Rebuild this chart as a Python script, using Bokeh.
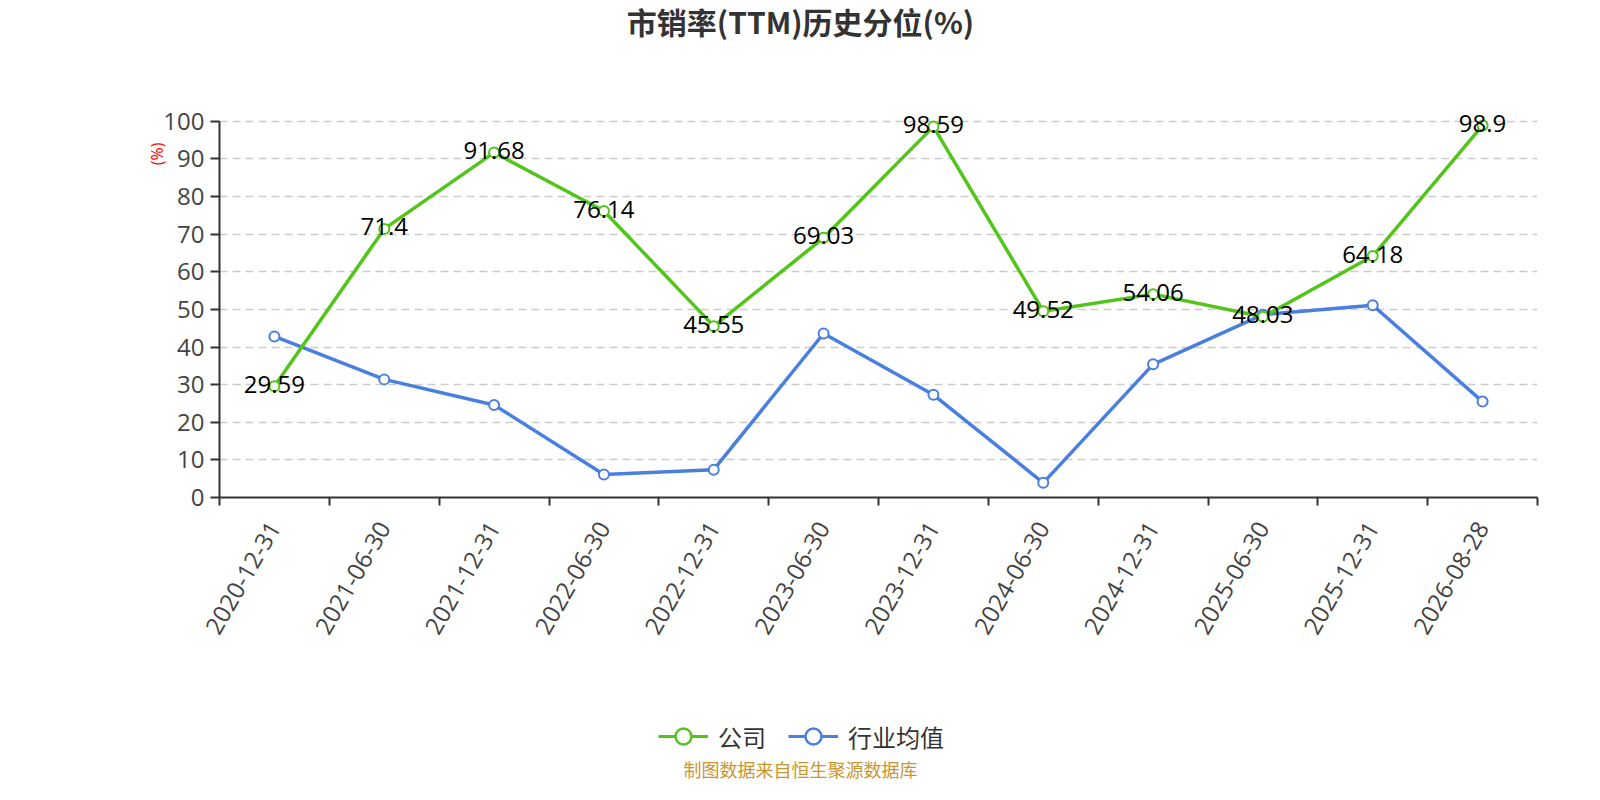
from bokeh.plotting import figure
from bokeh.models import (Range1d, FixedTicker, Label, LabelSet, Title,
                          ColumnDataSource, Legend, LegendItem)
from bokeh.layouts import column
from bokeh.core.properties import value
from bokeh.embed import file_html
from bokeh.resources import INLINE
import math

# ---- data ----
dates = ["2020-12-31", "2021-06-30", "2021-12-31", "2022-06-30", "2022-12-31", "2023-06-30",
         "2023-12-31", "2024-06-30", "2024-12-31", "2025-06-30", "2025-12-31", "2026-08-28"]
company = [29.59, 71.4, 91.68, 76.14, 45.55, 69.03, 98.59, 49.52, 54.06, 48.03, 64.18, 98.9]
industry = [42.8, 31.4, 24.6, 6.1, 7.4, 43.6, 27.3, 3.9, 35.4, 48.6, 51.1, 25.5]
series_names = ["公司", "行业均值"]
y_ticks = [0, 10, 20, 30, 40, 50, 60, 70, 80, 90, 100]
title_text = "市销率(TTM)历史分位(%)"
y_unit = "(%)"
footer_text = "制图数据来自恒生聚源数据库"

GREEN = "#52c41a"
BLUE = "#4a7fe0"
CJK = "Noto Sans CJK SC"
NUM = "Open Sans"

W = 1584
BL, BR = 219, 47          # left / right borders of the plot frame
FW = W - BL - BR          # frame width (all strips share it in the column)
T = 50                    # top strip height
TOP = 52                  # main plot border above the frame
FH = 395                  # frame height
BOT = 175                 # main plot border below the frame
H1 = TOP + FH + BOT
H2 = 784 - T - H1         # bottom strip height
n = len(dates)
xs = [i + 0.5 for i in range(n)]


def strip(h):
    f = figure(width=W, height=h, output_backend="svg", toolbar_location=None,
               x_range=Range1d(0, FW), y_range=Range1d(0, h),
               x_axis_type=None, y_axis_type=None,
               min_border_left=BL, min_border_right=BR, min_border_top=0, min_border_bottom=0)
    f.outline_line_color = None
    f.xgrid.visible = False
    f.ygrid.visible = False
    f.border_fill_color = "white"
    return f


# ---- top strip: title ----
top = strip(T)
top.add_layout(Label(x=W / 2 + 8 - BL, y=T - 20, text=title_text, text_align="center",
                     text_baseline="middle", text_font=CJK, text_font_size="30px",
                     text_font_style="bold", text_color="#333333"))

# ---- main chart ----
p = figure(width=W, height=H1, output_backend="svg", toolbar_location=None,
           x_range=Range1d(0, n), y_range=Range1d(0, 105),
           min_border_left=BL, min_border_right=BR, min_border_top=TOP,
           min_border_bottom=BOT)
p.outline_line_color = None
p.background_fill_color = "white"
p.border_fill_color = "white"

# x axis: labels at category centres, ticks at boundaries
xa = p.xaxis[0]
xa.ticker = FixedTicker(ticks=xs, minor_ticks=list(range(n + 1)))
xa.major_label_overrides = {x: d for x, d in zip(xs, dates)}
xa.major_label_orientation = math.pi / 3
xa.major_tick_line_color = None
xa.major_tick_out = 8
xa.major_tick_in = 0
xa.minor_tick_line_color = "#333333"
xa.minor_tick_line_width = 2
xa.minor_tick_out = 8
xa.minor_tick_in = 0
xa.axis_line_color = "#333333"
xa.axis_line_width = 2
xa.major_label_text_font = NUM
xa.major_label_text_font_size = "24px"
xa.major_label_text_color = "#444444"
xa.major_label_standoff = 18

ya = p.yaxis[0]
ya.ticker = FixedTicker(ticks=y_ticks)
ya.bounds = (0, 100)
ya.axis_line_color = "#333333"
ya.axis_line_width = 2
ya.major_tick_line_color = "#333333"
ya.major_tick_line_width = 2
ya.major_tick_out = 9
ya.major_tick_in = 0
ya.minor_tick_line_color = None
ya.major_label_text_font = NUM
ya.major_label_text_font_size = "24px"
ya.major_label_text_color = "#444444"
ya.major_label_standoff = 6

# unit label beside the top of the value axis
p.add_layout(Title(text=y_unit, align="right", offset=40, standoff=-14,
                   text_font=NUM, text_font_size="16px", text_font_style="normal",
                   text_color="#ff0000"), "left")

p.xgrid.grid_line_color = None
p.ygrid.grid_line_color = "#cccccc"
p.ygrid.grid_line_dash = "8 5"
p.ygrid.grid_line_width = 1.5

src = ColumnDataSource(dict(x=xs, company=company, industry=industry,
                            clabel=[f"{v:g}" for v in company]))

p.line("x", "industry", source=src, line_color=BLUE, line_width=3.5)
p.scatter("x", "industry", source=src, size=10, fill_color="white",
          line_color=BLUE, line_width=2)
p.line("x", "company", source=src, line_color=GREEN, line_width=3.5)
p.scatter("x", "company", source=src, size=10, fill_color="white",
          line_color=GREEN, line_width=2)

labels = LabelSet(x="x", y="company", text="clabel", source=src, text_align="center",
                  text_baseline="middle", text_font=value(NUM), text_font_size="24px",
                  text_color="#000000", y_offset=2)
p.add_layout(labels)

# ---- bottom strip: legend and source note ----
q = strip(H2)
y0 = T + H1  # top of the bottom strip in page coordinates
# legend proxies: one point each, kept outside the visible range
proxy = ColumnDataSource(dict(x=[-10 * FW], y=[-10 * H2]))
lg_l = q.line("x", "y", source=proxy, line_color=GREEN, line_width=3)
lg_s = q.scatter("x", "y", source=proxy, size=22, fill_color="white",
                 line_color=GREEN, line_width=2.5)
li_l = q.line("x", "y", source=proxy, line_color=BLUE, line_width=3)
li_s = q.scatter("x", "y", source=proxy, size=22, fill_color="white",
                 line_color=BLUE, line_width=2.5)

legend_h = 40
legend = Legend(items=[LegendItem(label=series_names[0], renderers=[lg_l, lg_s]),
                       LegendItem(label=series_names[1], renderers=[li_l, li_s])],
                orientation="horizontal",
                location=(658 - BL, H2 - (736 - y0) - legend_h / 2),
                glyph_width=50, glyph_height=legend_h, label_standoff=10, spacing=22,
                padding=0, margin=0, border_line_color=None, background_fill_alpha=0,
                label_text_font=CJK, label_text_font_size="24px", label_text_color="#333333")
q.add_layout(legend)

q.add_layout(Label(x=W / 2 + 8 - BL, y=H2 - (768 - y0), text=footer_text,
                   text_align="center", text_baseline="middle", text_font=CJK,
                   text_font_size="18px", text_color="#c8962e"))

open("out.html", "w").write(file_html(column(top, p, q), INLINE))
